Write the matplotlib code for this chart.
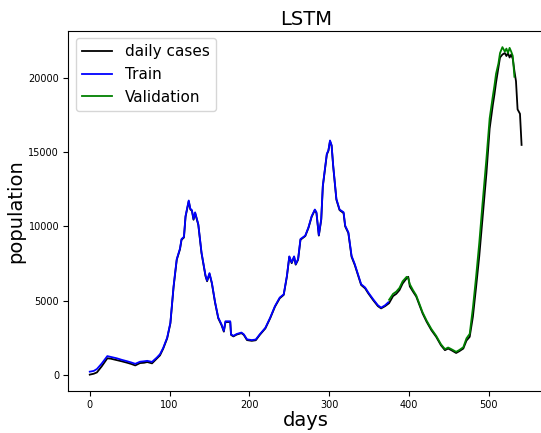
import matplotlib
matplotlib.use("Agg")
import matplotlib.pyplot as plt

# daily cases
days = [0, 5, 9, 15, 22, 26, 34, 40, 47, 52, 57, 63, 68, 72, 78, 84, 88, 92, 97, 101,
        105, 107, 109, 113, 115, 118, 120, 124, 126, 128, 130, 132, 136, 140, 145, 147,
        150, 153, 157, 161, 165, 168, 170, 176, 177, 180, 184, 190, 193, 197, 203, 208,
        213, 220, 226, 232, 238, 243, 247, 250, 253, 256, 258, 261, 264, 270, 274, 278,
        282, 284, 287, 290, 292, 297, 299, 301, 303, 305, 309, 313, 318, 320, 324, 328,
        332, 336, 340, 345, 349, 355, 361, 365, 370, 375, 380, 384, 388, 392, 397, 399,
        401, 405, 409, 413, 417, 422, 428, 434, 440, 445, 449, 453, 459, 463, 468, 472,
        476, 480, 484, 488, 492, 497, 501, 505, 507, 509, 512, 514, 517, 520, 522, 524,
        526, 528, 530, 532, 534, 536, 539, 541]
cases = [0, 60, 150, 560, 1100, 1080, 980, 900, 800, 720, 620, 780, 800, 850, 760, 1080,
         1300, 1750, 2450, 3450, 5900, 6850, 7750, 8450, 9100, 9250, 10650, 11700, 11150,
         11050, 10450, 10900, 10100, 8200, 6650, 6300, 6800, 6150, 4850, 3800, 3350, 2900,
         3550, 3550, 2680, 2580, 2700, 2800, 2680, 2330, 2280, 2320, 2680, 3120, 3800, 4580,
         5150, 5380, 6620, 7950, 7520, 7950, 7420, 7750, 9100, 9350, 9900, 10650, 11100,
         10900, 9380, 10450, 12700, 14850, 15100, 15750, 15450, 14050, 11800, 11100, 10900,
         10000, 9550, 7950, 7400, 6720, 6050, 5820, 5480, 5030, 4620, 4470, 4620, 4820,
         5300, 5450, 5700, 6150, 6500, 6600, 5950, 5600, 5270, 4700, 4130, 3570, 3000, 2550,
         1980, 1650, 1760, 1650, 1460, 1580, 1760, 2300, 2550, 3900, 5900, 8000, 10500,
         13600, 16600, 18200, 18900, 19700, 20700, 21400, 21600, 21700, 21500, 21700, 21400,
         21600, 21300, 20500, 19800, 17900, 17600, 15500]

# train predictions
train_days = [0, 5, 9, 15, 22, 26, 34, 40, 47, 52, 57, 63, 68, 72, 78, 84, 88, 92, 97, 101,
              105, 107, 109, 113, 115, 118, 120, 124, 126, 128, 130, 132, 136, 140, 145, 147,
              150, 153, 157, 161, 165, 168, 170, 176, 177, 180, 184, 190, 193, 197, 203, 208,
              213, 220, 226, 232, 238, 243, 247, 250, 253, 256, 258, 261, 264, 270, 274, 278,
              282, 284, 287, 290, 292, 297, 299, 301, 303, 305, 309, 313, 318, 320, 324, 328,
              332, 336, 340, 345, 349, 355, 361, 365, 370, 374]
train_pred = [200, 250, 380, 750, 1250, 1200, 1100, 1000, 900, 820, 730, 870, 900, 930, 860,
              1150, 1380, 1800, 2500, 3500, 5950, 6900, 7800, 8500, 9150, 9300, 10700, 11750,
              11200, 11100, 10500, 10950, 10150, 8250, 6700, 6350, 6850, 6200, 4900, 3850,
              3400, 2950, 3600, 3600, 2720, 2620, 2740, 2840, 2720, 2380, 2330, 2370, 2720,
              3160, 3840, 4620, 5200, 5420, 6670, 7980, 7570, 7980, 7460, 7800, 9150, 9380,
              9940, 10690, 11140, 10960, 9420, 10500, 12750, 14900, 15140, 15800, 15480, 14100,
              11860, 11140, 10960, 10060, 9600, 8020, 7460, 6780, 6100, 5880, 5540, 5090, 4680,
              4520, 4680, 4880]

# validation predictions
val_days = [375, 380, 384, 388, 392, 397, 399, 401, 405, 409, 413, 417, 422, 428, 434, 440,
            445, 449, 453, 459, 463, 468, 472, 476, 480, 484, 488, 492, 497, 501, 505, 507,
            509, 512, 514, 517, 520, 522, 524, 526, 528, 530, 532]
val_pred = [5050, 5450, 5600, 5850, 6300, 6600, 6500, 6100, 5700, 5350, 4780, 4200, 3650,
            3080, 2620, 2050, 1720, 1830, 1720, 1540, 1660, 1850, 2450, 2750, 4500, 6600,
            8900, 11500, 14600, 17300, 18800, 19500, 20300, 21000, 21700, 22100, 21800, 22000,
            21700, 22050, 21800, 21500, 20100]

fig, ax = plt.subplots(figsize=(5.41, 4.33), dpi=100)
fig.subplots_adjust(left=0.126, right=1.004, top=0.929, bottom=0.097)

ax.plot(days, cases, color="black", lw=1.3, label="daily cases")
ax.plot(train_days, train_pred, color="blue", lw=1.3, label="Train")
ax.plot(val_days, val_pred, color="green", lw=1.3, label="Validation")

ax.set_title("LSTM", fontsize=14, pad=4)
ax.set_xlabel("days", fontsize=14, labelpad=1)
ax.set_ylabel("population", fontsize=14, labelpad=2)
ax.tick_params(labelsize=7, length=3.5, pad=3)
ax.legend(loc="upper left", fontsize=11)

fig.savefig("out.png", dpi=100)
